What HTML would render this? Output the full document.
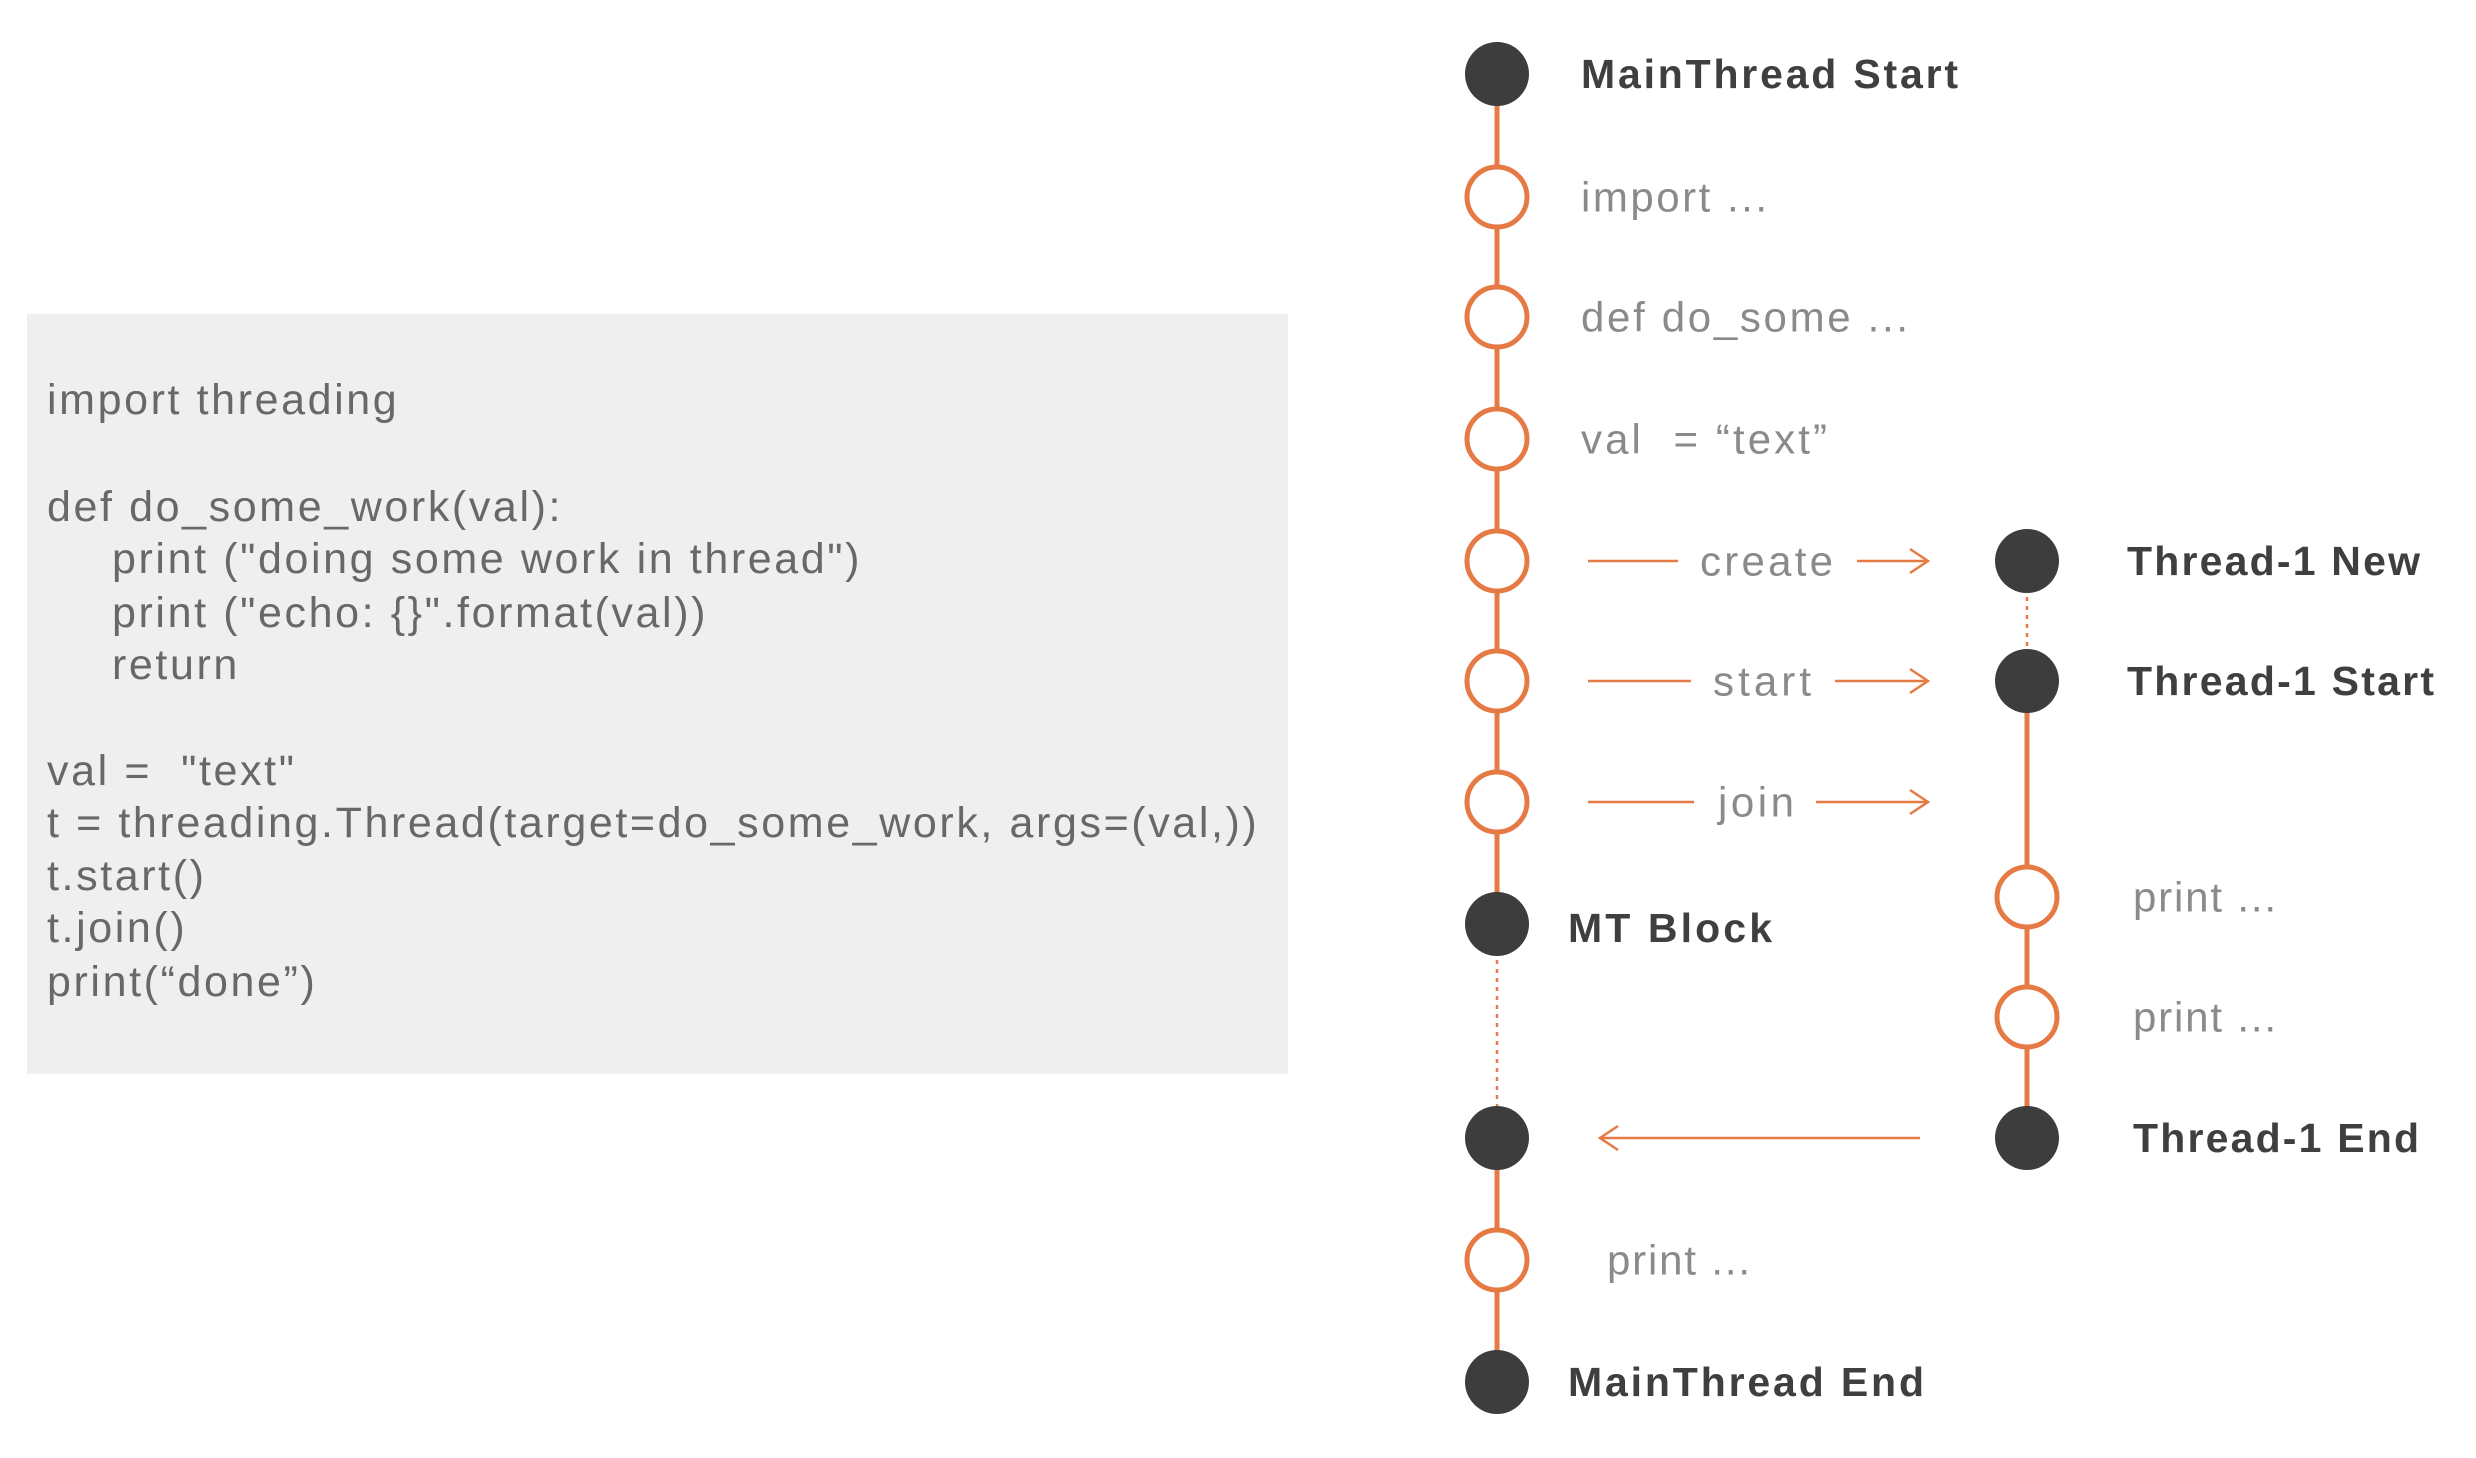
<!DOCTYPE html>
<html><head><meta charset="utf-8"><style>
html,body{margin:0;padding:0;background:#fff;}
body{width:2476px;height:1458px;position:relative;overflow:hidden;font-family:"Liberation Sans",sans-serif;}
.box{position:absolute;left:27px;top:314px;width:1261px;height:760px;background:#efefef;}
.code{position:absolute;left:47px;top:0;color:#686868;font-size:43px;letter-spacing:2.6px;white-space:pre;line-height:1;}
.ind{left:112px;}
svg{position:absolute;left:0;top:0;}
</style></head><body>
<div class="box"></div>
<div class="code" style="top:379px">import threading</div>
<div class="code" style="top:486px">def do_some_work(val):</div>
<div class="code ind" style="top:538px">print ("doing some work in thread")</div>
<div class="code ind" style="top:592px">print ("echo: {}".format(val))</div>
<div class="code ind" style="top:644px">return</div>
<div class="code" style="top:750px">val =  "text"</div>
<div class="code" style="top:802px">t = threading.Thread(target=do_some_work, args=(val,))</div>
<div class="code" style="top:855px">t.start()</div>
<div class="code" style="top:907px">t.join()</div>
<div class="code" style="top:961px">print(“done”)</div>
<svg width="2476" height="1458" viewBox="0 0 2476 1458">
<g stroke="#e57a45" stroke-width="5" fill="none">
<line x1="1497" y1="74" x2="1497" y2="924"/>
<line x1="1497" y1="1138" x2="1497" y2="1382"/>
<line x1="2027" y1="681" x2="2027" y2="1138"/>
</g>
<g stroke="#e57a45" stroke-width="2.5" stroke-dasharray="4 5" fill="none">
<line x1="1497" y1="924" x2="1497" y2="1138"/>
<line x1="2027" y1="561" x2="2027" y2="681"/>
</g>
<g stroke="#e57a45" stroke-width="2.5" fill="none">
<line x1="1588" y1="561" x2="1678" y2="561"/><line x1="1857" y1="561" x2="1928" y2="561"/><polyline points="1910,549 1928,561 1910,573"/>
<line x1="1588" y1="681" x2="1691" y2="681"/><line x1="1835" y1="681" x2="1928" y2="681"/><polyline points="1910,669 1928,681 1910,693"/>
<line x1="1588" y1="802" x2="1694" y2="802"/><line x1="1816" y1="802" x2="1928" y2="802"/><polyline points="1910,790 1928,802 1910,814"/>
<line x1="1600" y1="1138" x2="1920" y2="1138"/><polyline points="1618,1126 1600,1138 1618,1150"/>
</g>
<g fill="#3d3d3d">
<circle cx="1497" cy="74" r="32"/><circle cx="1497" cy="924" r="32"/><circle cx="1497" cy="1138" r="32"/><circle cx="1497" cy="1382" r="32"/>
<circle cx="2027" cy="561" r="32"/><circle cx="2027" cy="681" r="32"/><circle cx="2027" cy="1138" r="32"/>
</g>
<g fill="#fff" stroke="#e57a45" stroke-width="5">
<circle cx="1497" cy="197" r="30"/><circle cx="1497" cy="317" r="30"/><circle cx="1497" cy="439" r="30"/><circle cx="1497" cy="561" r="30"/><circle cx="1497" cy="681" r="30"/><circle cx="1497" cy="802" r="30"/><circle cx="1497" cy="1260" r="30"/>
<circle cx="2027" cy="897" r="30"/><circle cx="2027" cy="1017" r="30"/>
</g>
<g font-family="Liberation Sans, sans-serif" font-size="41" dominant-baseline="central">
<g font-weight="bold" fill="#3f3f3f">
<text x="1581" y="74" textLength="377">MainThread Start</text>
<text x="1568" y="928" textLength="204">MT Block</text>
<text x="1568" y="1382" textLength="356">MainThread End</text>
<text x="2127" y="561" textLength="293">Thread-1 New</text>
<text x="2127" y="681" textLength="307">Thread-1 Start</text>
<text x="2133" y="1138" textLength="286">Thread-1 End</text>
</g>
<g fill="#8a8a8a" font-size="42">
<text x="1581" y="197" textLength="186">import ...</text>
<text x="1581" y="317" textLength="327">def do_some ...</text>
<text x="1581" y="439" textLength="246" xml:space="preserve">val  = “text”</text>
<text x="1700" y="561" textLength="133">create</text>
<text x="1713" y="681" textLength="98">start</text>
<text x="1718" y="802" textLength="76">join</text>
<text x="2133" y="897" textLength="143">print ...</text>
<text x="2133" y="1017" textLength="143">print ...</text>
<text x="1607" y="1260" textLength="143">print ...</text>
</g>
</g>
</svg>
</body></html>
